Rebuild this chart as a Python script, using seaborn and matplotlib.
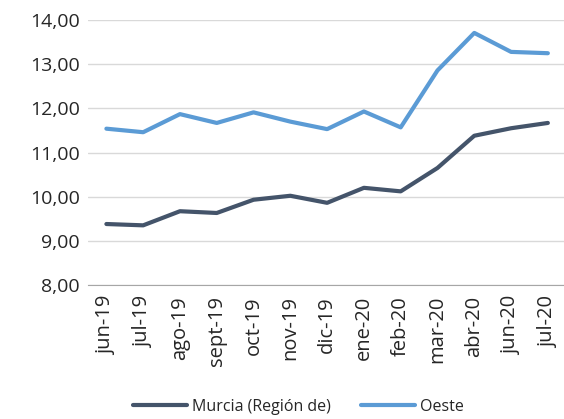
import pandas as pd
import matplotlib.pyplot as plt
import seaborn as sns

# Data
months = ['jun-19', 'jul-19', 'ago-19', 'sept-19', 'oct-19', 'nov-19', 'dic-19',
          'ene-20', 'feb-20', 'mar-20', 'abr-20', 'jun-20', 'jul-20']
murcia = [9.38, 9.35, 9.67, 9.63, 9.93, 10.02, 9.86, 10.20, 10.12, 10.65, 11.38, 11.55, 11.67]
oeste = [11.54, 11.46, 11.87, 11.67, 11.91, 11.70, 11.53, 11.93, 11.57, 12.86, 13.71, 13.28, 13.25]

df = pd.DataFrame({'mes': months * 2,
                   'valor': murcia + oeste,
                   'serie': ['Murcia (Región de)'] * len(months) + ['Oeste'] * len(months)})

sns.set_style('white')
plt.rcParams['font.family'] = ['Open Sans', 'DejaVu Sans']

fig = plt.figure(figsize=(5.64, 4.19), dpi=100)
ax = fig.add_axes([0.156, 0.32, 0.848, 0.632])

sns.lineplot(data=df, x='mes', y='valor', hue='serie', sort=False,
             palette={'Murcia (Región de)': '#44546A', 'Oeste': '#5B9BD5'},
             linewidth=3, ax=ax)

ax.set_xlim(-0.5, len(months) - 0.5)
ax.set_ylim(8, 14)
ax.set_yticks(range(8, 15))
ax.set_yticklabels([f'{v},00' for v in range(8, 15)], fontsize=14)
ax.tick_params(axis='x', labelrotation=90, labelsize=14.5, length=0, pad=8)
ax.tick_params(axis='y', length=0, pad=6)
ax.grid(axis='y', color='#D9D9D9', linewidth=1)
ax.set_axisbelow(True)
for s in ['top', 'right', 'left']:
    ax.spines[s].set_visible(False)
ax.spines['bottom'].set_color('#A6A6A6')
ax.set_xlabel('')
ax.set_ylabel('')

ax.legend(title=None, loc='center', bbox_to_anchor=(0.44, -0.46), ncol=2,
          frameon=False, fontsize=11.5, handlelength=3.4, columnspacing=1.9,
          handletextpad=0.3)

plt.savefig('out.png', dpi=100)
plt.close()
